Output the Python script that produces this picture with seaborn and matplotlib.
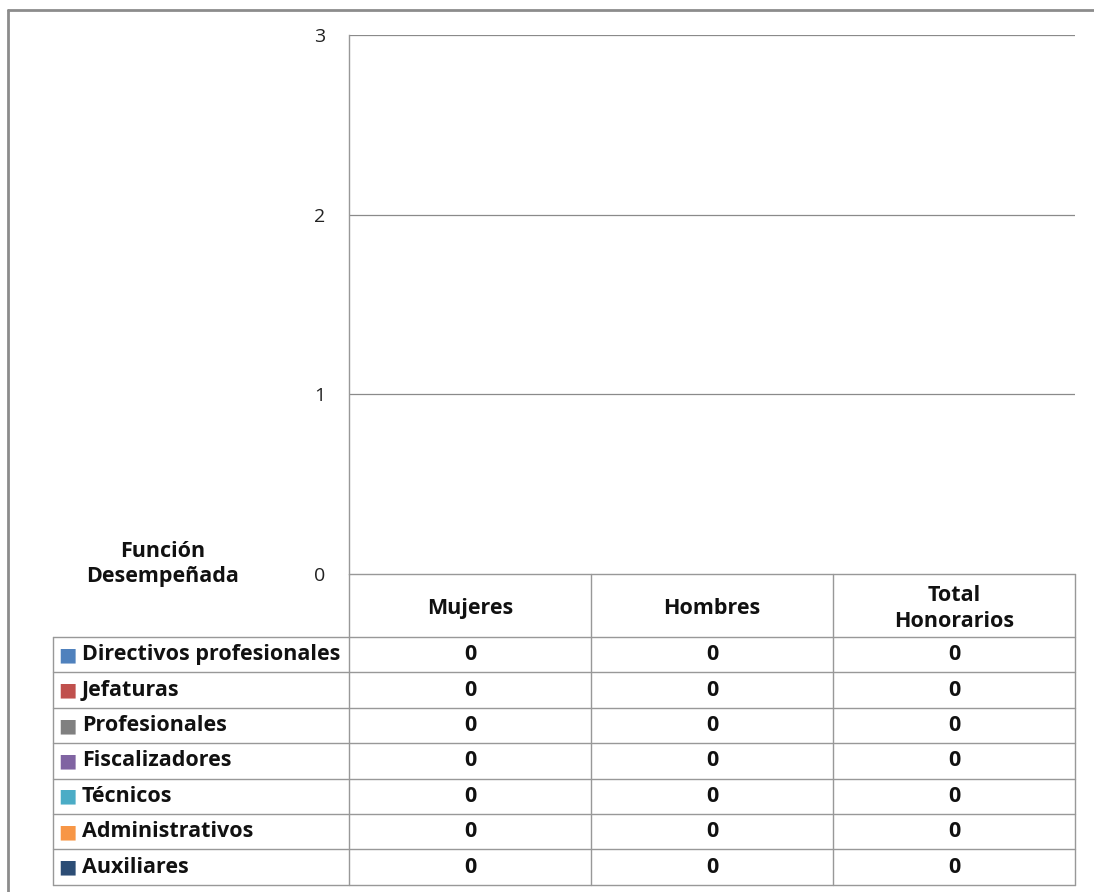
"""Recreate the 'Función Desempeñada' honorarios chart with its data table."""

import matplotlib

matplotlib.use("Agg")

import matplotlib.pyplot as plt
from matplotlib.lines import Line2D
import pandas as pd
import seaborn as sns


COLUMNS = ["Mujeres", "Hombres", "Total\nHonorarios"]
FUNCTIONS = [
    "Directivos profesionales",
    "Jefaturas",
    "Profesionales",
    "Fiscalizadores",
    "Técnicos",
    "Administrativos",
    "Auxiliares",
]
MUJERES = [0, 0, 0, 0, 0, 0, 0]
HOMBRES = [0, 0, 0, 0, 0, 0, 0]
TOTAL = [0, 0, 0, 0, 0, 0, 0]
Y_TICKS = [0, 1, 2, 3]

COLORS = ["#4F81BD", "#C0504D", "#808080", "#8064A2", "#4BACC6", "#F79646", "#2C4D75"]
LINE_GREY = "#989898"
FONT = ["Open Sans", "DejaVu Sans"]


def main() -> None:
    sns.set_theme(style="white")
    plt.rcParams["font.family"] = FONT

    values = {"Mujeres": MUJERES, "Hombres": HOMBRES, "Total\nHonorarios": TOTAL}
    frame = pd.DataFrame(
        [
            {"columna": col, "funcion": fn, "valor": values[col][i]}
            for col in COLUMNS
            for i, fn in enumerate(FUNCTIONS)
        ]
    )

    fig = plt.figure(figsize=(10.94, 8.92), dpi=100)
    W, H = 1094, 892
    left, right, top, bottom = 349, 1075, 35, 574
    ax = fig.add_axes([left / W, 1 - bottom / H, (right - left) / W, (bottom - top) / H])

    sns.barplot(
        data=frame,
        x="columna",
        y="valor",
        hue="funcion",
        order=COLUMNS,
        hue_order=FUNCTIONS,
        palette=COLORS,
        legend=False,
        ax=ax,
    )
    ax.set_ylim(Y_TICKS[0], Y_TICKS[-1])
    ax.set_xlim(-0.5, len(COLUMNS) - 0.5)
    ax.set_yticks(Y_TICKS)
    ax.set_yticklabels([str(t) for t in Y_TICKS], fontsize=14, color="#222222")
    ax.tick_params(axis="y", length=0, pad=17)
    ax.get_yticklabels()[0].set_y(-0.006)
    ax.set_xticks([])
    ax.set_xlabel("")
    ax.set_ylabel("")
    for t in Y_TICKS[1:]:
        ax.axhline(t, color="#8a8a8a", linewidth=0.9, zorder=0)
    for name, spine in ax.spines.items():
        spine.set_visible(name == "left")
    ax.spines["left"].set_color(LINE_GREY)
    ax.spines["left"].set_linewidth(1.0)

    # data table below the plot area, in axes fractions
    plot_h = bottom - top
    plot_w = right - left
    header_h = 63 / plot_h
    row_h = 35.4 / plot_h
    table_bottom = -(header_h + row_h * len(FUNCTIONS))
    label_left = (53 - left) / plot_w
    tr = ax.transAxes
    line_kw = dict(color=LINE_GREY, linewidth=1.0, transform=tr, clip_on=False)

    ax.plot([0, 1], [0, 0], **line_kw)
    for k in range(len(COLUMNS) + 1):
        ax.plot([k / len(COLUMNS)] * 2, [0, table_bottom], **line_kw)
    ax.plot([label_left] * 2, [-header_h, table_bottom], **line_kw)
    for r in range(len(FUNCTIONS) + 1):
        y = -header_h - r * row_h
        ax.plot([label_left, 1], [y, y], **line_kw)

    text_kw = dict(transform=tr, va="center", fontsize=15.5, fontweight="bold", color="#111111")
    for k, col in enumerate(COLUMNS):
        ax.text((k + 0.5) / len(COLUMNS), -header_h / 2 - 3 / plot_h, col, ha="center",
                linespacing=1.3, **text_kw)

    table_values = [MUJERES, HOMBRES, TOTAL]
    for r, fn in enumerate(FUNCTIONS):
        yc = -header_h - (r + 0.5) * row_h
        ax.text(label_left + 5 / plot_w, yc, "■", transform=tr, ha="left",
                va="center", fontsize=14, color=COLORS[r], family="DejaVu Sans")
        ax.text(label_left + 29 / plot_w, yc, fn, ha="left", **text_kw)
        for k, vals in enumerate(table_values):
            ax.text((k + 0.5) / len(COLUMNS), yc, str(vals[r]), ha="center", **text_kw)

    fig.text(163 / W, 1 - 564 / H, "Función\nDesempeñada", ha="center",
             va="center", fontsize=15.5, fontweight="bold", color="#111111",
             linespacing=1.3)

    # outer chart frame (top and left edges visible)
    fig.add_artist(Line2D([8 / W, 8 / W], [0, 1 - 10 / H], color="#8c8c8c",
                          linewidth=2, transform=fig.transFigure))
    fig.add_artist(Line2D([8 / W, 1], [1 - 10 / H, 1 - 10 / H], color="#8c8c8c",
                          linewidth=2, transform=fig.transFigure))

    fig.savefig("out.png", dpi=100)
    plt.close(fig)


if __name__ == "__main__":
    main()
